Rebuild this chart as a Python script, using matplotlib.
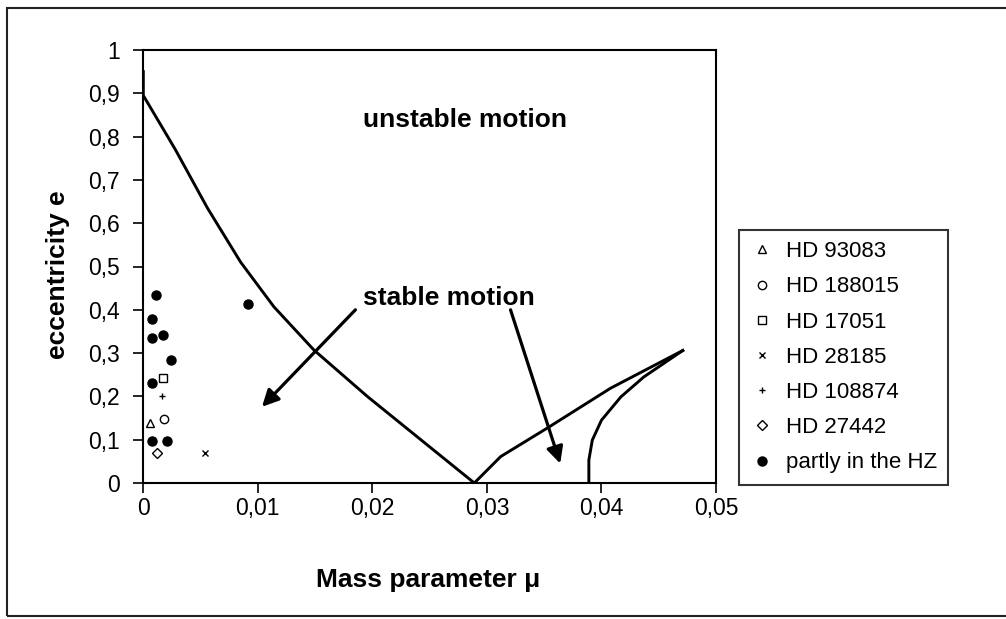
import matplotlib
matplotlib.use("Agg")
import matplotlib.pyplot as plt
from matplotlib.patches import Rectangle

plt.rcParams['font.family'] = ['Liberation Sans', 'DejaVu Sans']

# ---- data ----
curve1_mu = [0.0, 0.0, 0.0028, 0.0056, 0.0085, 0.0114, 0.0149, 0.0196, 0.0239, 0.0289]
curve1_e = [0.95, 0.895, 0.77, 0.635, 0.51, 0.407, 0.307, 0.199, 0.107, 0.0]
curve2_mu = [0.0289, 0.0312, 0.0354, 0.0408, 0.0471]
curve2_e = [0.0, 0.061, 0.129, 0.219, 0.306]
curve3_mu = [0.0389, 0.0389, 0.0392, 0.0400, 0.0417, 0.0437, 0.0471]
curve3_e = [0.0, 0.053, 0.099, 0.145, 0.199, 0.245, 0.306]

star_names = ['HD 93083', 'HD 188015', 'HD 17051', 'HD 28185', 'HD 108874', 'HD 27442']
star_mu = [0.0006, 0.0018, 0.0017, 0.0054, 0.0016, 0.0012]
star_e = [0.138, 0.148, 0.242, 0.069, 0.202, 0.069]
star_markers = ['^', 'o', 's', 'x', '+', 'D']

hz_label = 'partly in the HZ'
hz_mu = [0.0011, 0.0008, 0.0008, 0.0017, 0.00245, 0.0008, 0.0008, 0.00205, 0.0091]
hz_e = [0.434, 0.379, 0.336, 0.342, 0.284, 0.230, 0.097, 0.097, 0.413]

x_ticks = [0, 0.01, 0.02, 0.03, 0.04, 0.05]
x_ticklabels = ['0', '0,01', '0,02', '0,03', '0,04', '0,05']
y_ticks = [0, 0.1, 0.2, 0.3, 0.4, 0.5, 0.6, 0.7, 0.8, 0.9, 1.0]
y_ticklabels = ['0', '0,1', '0,2', '0,3', '0,4', '0,5', '0,6', '0,7', '0,8', '0,9', '1']

# ---- figure ----
W, H = 1006, 619
fig = plt.figure(figsize=(W / 100, H / 100), dpi=100)
ax = fig.add_axes([143.3 / W, (H - 483) / H, (716 - 143.3) / W, 433 / H])

lw = 2.1
ax.plot(curve1_mu, curve1_e, color='black', lw=lw, solid_joinstyle='round')
ax.plot(curve2_mu, curve2_e, color='black', lw=lw, solid_joinstyle='round')
ax.plot(curve3_mu, curve3_e, color='black', lw=lw, solid_joinstyle='round')

handles = []
for name, m, e, mk in zip(star_names, star_mu, star_e, star_markers):
    if mk in ('x', '+'):
        h, = ax.plot([m], [e], linestyle='none', marker=mk, color='black',
                     markersize=5, markeredgewidth=1.0, label=name)
    else:
        h, = ax.plot([m], [e], linestyle='none', marker=mk, markerfacecolor='white',
                     markeredgecolor='black', markersize=6 if mk != 'D' else 5,
                     markeredgewidth=1.0, label=name)
    handles.append(h)
h, = ax.plot(hz_mu, hz_e, linestyle='none', marker='o', color='black',
             markersize=6.5, label=hz_label)
handles.append(h)

ax.set_xlim(0, 0.05)
ax.set_ylim(0, 1)
ax.set_xticks(x_ticks)
ax.set_xticklabels(x_ticklabels)
ax.set_yticks(y_ticks)
ax.set_yticklabels(y_ticklabels)
ax.tick_params(axis='both', direction='out', length=7, width=1.2, labelsize=16.5)
ax.tick_params(axis='y', pad=10)
ax.tick_params(axis='x', pad=3)
for s in ax.spines.values():
    s.set_linewidth(1.5)

ax.set_xlabel('Mass parameter μ', fontsize=19, fontweight='bold')
ax.set_ylabel('eccentricity e', fontsize=19, fontweight='bold')
ax.xaxis.set_label_coords(0.497, -0.196)
ax.yaxis.set_label_coords(-0.128, 0.48)

ax.text(0.0281, 0.838, 'unstable motion', fontsize=19, fontweight='bold',
        ha='center', va='center')
ax.text(0.0267, 0.428, 'stable motion', fontsize=19, fontweight='bold',
        ha='center', va='center')

arrow_kw = dict(arrowstyle='-|>,head_length=1.0,head_width=0.5', color='black', lw=2.3,
                shrinkA=0, shrinkB=0)
ax.annotate('', xy=(0.01036, 0.176), xytext=(0.01852, 0.400), arrowprops=arrow_kw)
ax.annotate('', xy=(0.0364, 0.045), xytext=(0.03206, 0.400), arrowprops=arrow_kw)

leg = ax.legend(handles=handles, loc='upper left',
                bbox_to_anchor=(739 / W, 1 - 230 / H), bbox_transform=fig.transFigure,
                fontsize=16, frameon=True, fancybox=False, edgecolor='black',
                handlelength=1.1, handletextpad=0.5, labelspacing=0.64,
                borderpad=0.5, borderaxespad=0)
leg.get_frame().set_linewidth(1.5)

fig.patches.append(Rectangle((7 / W, 1 - 616 / H), (W + 10) / W, (616 - 8) / H,
                             transform=fig.transFigure, fill=False,
                             edgecolor='#222222', linewidth=1.5))

fig.savefig('out.png', dpi=100)
